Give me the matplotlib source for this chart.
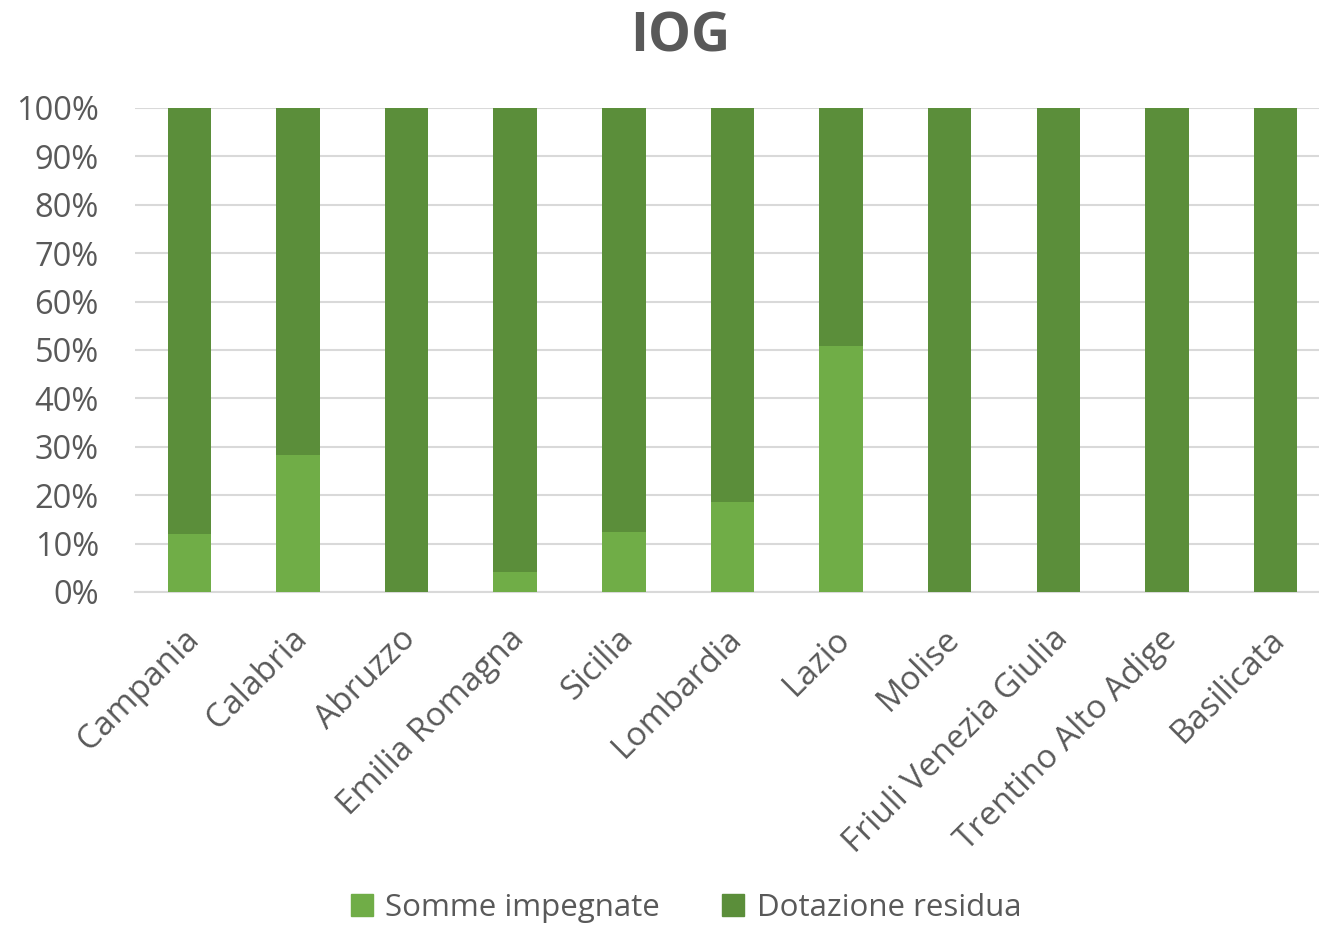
import matplotlib
matplotlib.use("Agg")
from matplotlib import pyplot as plt
from matplotlib.patches import Patch
from matplotlib.ticker import PercentFormatter
from matplotlib.transforms import ScaledTranslation

# data (share of total, in %)
regions = ["Campania", "Calabria", "Abruzzo", "Emilia Romagna", "Sicilia",
           "Lombardia", "Lazio", "Molise", "Friuli Venezia Giulia",
           "Trentino Alto Adige", "Basilicata"]
somme_impegnate = [12.0, 28.3, 0.0, 4.1, 12.3, 18.5, 50.8, 0.0, 0.0, 0.0, 0.0]
dotazione_residua = [100 - v for v in somme_impegnate]

light = "#70AD47"
dark = "#5B8E3A"
grey_txt = "#595959"

plt.rcParams['font.family'] = ['Open Sans', 'DejaVu Sans']

fig = plt.figure(figsize=(13.19, 9.27), dpi=100)
ax = fig.add_axes([135/1319, 1 - 592/927, 1 - 135/1319, (592 - 108)/927])

x = list(range(len(regions)))
ax.bar(x, somme_impegnate, width=0.4, color=light, zorder=3)
ax.bar(x, dotazione_residua, width=0.4, bottom=somme_impegnate, color=dark, zorder=3)

ax.set_ylim(0, 100)
ax.set_xlim(-0.5, 10.4)
ax.set_yticks(range(0, 101, 10))
ax.yaxis.set_major_formatter(PercentFormatter(decimals=0))
ax.grid(axis="y", color="#D9D9D9", linewidth=1.5, zorder=0)
for s in ["top", "right", "left"]:
    ax.spines[s].set_visible(False)
ax.spines["bottom"].set_color("#D9D9D9")
ax.spines["bottom"].set_linewidth(1.5)
ax.tick_params(length=0, colors=grey_txt, labelsize=23.5)
ax.tick_params(axis="y", pad=26)

ax.set_xticks(x)
ax.set_xticklabels(regions, rotation=45, ha="right", va="top",
                   rotation_mode="anchor", fontsize=24, color=grey_txt)
ax.tick_params(axis="x", pad=22)
# nudge the slanted labels a little to the left
shift = ScaledTranslation(-7/100, 0, fig.dpi_scale_trans)
for lab in ax.get_xticklabels():
    lab.set_transform(lab.get_transform() + shift)

fig.text(680/1319, 1 - 37/927, "IOG", ha="center", va="center",
         fontsize=39, fontweight="bold", color=grey_txt)

handles = [Patch(color=light, label="Somme impegnate"),
           Patch(color=dark, label="Dotazione residua")]
fig.legend(handles=handles, loc="center", bbox_to_anchor=(686/1319, 1 - 908/927),
           ncol=2, frameon=False, fontsize=22.5, labelcolor=grey_txt,
           handlelength=0.7, handleheight=0.7, handletextpad=0.4, columnspacing=2.0)

fig.savefig("out.png", dpi=100)
